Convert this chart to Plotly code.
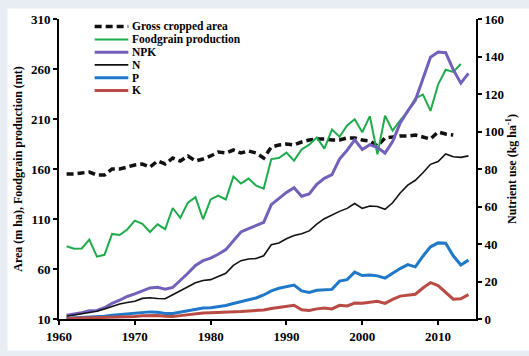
import plotly.graph_objects as go

# ---- data -------------------------------------------------------------
years = list(range(1961, 2015))
years_area = list(range(1961, 2013))
years_food = list(range(1961, 2014))

# Gross cropped area (m ha)
gross_cropped_area = [
    155, 155, 156, 157, 154, 154, 160, 160, 162, 164,
    165, 162, 168, 165, 171, 168, 173, 168, 170, 173,
    177, 176, 179, 176, 178, 176, 171, 182, 184, 185,
    184, 187, 189, 190, 190, 189, 189, 191, 191, 189,
    188, 183, 191, 192, 193, 193, 194, 192, 190, 197,
    195, 194,
]

# Foodgrain production (mt)
foodgrain = [
    82.7, 80.2, 80.6, 89.4, 72.4, 74.2, 95.1, 94.0, 99.5, 108.4,
    105.2, 97.0, 104.7, 99.8, 121.0, 111.2, 126.4, 131.9, 109.7, 129.6,
    133.3, 129.5, 152.4, 145.5, 150.4, 143.4, 140.4, 169.9, 171.0, 176.4,
    168.4, 179.5, 184.3, 191.5, 180.4, 199.4, 192.3, 203.6, 209.8, 196.8,
    212.9, 174.8, 213.2, 198.4, 208.6, 217.3, 230.8, 234.5, 218.1, 244.5,
    259.3, 257.1, 265.0,
]

# Nutrient use (kg/ha)
npk = [
    2.0, 2.6, 3.3, 4.4, 4.6, 6.0, 8.3, 10.0, 12.0, 13.4,
    15.0, 16.6, 16.9, 15.9, 16.8, 20.5, 24.4, 28.6, 31.1, 32.5,
    34.5, 37.0, 42.0, 46.4, 48.2, 49.8, 51.5, 61.0, 64.0, 67.5,
    70.0, 65.5, 66.7, 71.8, 75.0, 77.0, 85.3, 90.0, 95.5, 90.4,
    93.0, 91.4, 88.5, 94.6, 104.5, 111.0, 116.7, 128.5, 139.6, 142.4,
    142.0, 133.0, 125.8, 131.0,
]
nitrogen = [
    1.5, 2.2, 3.0, 3.8, 4.1, 5.3, 6.6, 8.0, 8.8, 9.5,
    11.0, 11.3, 10.9, 10.8, 12.9, 15.0, 17.1, 19.3, 20.5, 21.0,
    22.7, 24.4, 28.6, 31.1, 32.0, 32.3, 33.7, 39.6, 40.5, 42.8,
    44.5, 45.5, 47.0, 50.6, 53.5, 55.5, 57.4, 59.0, 61.6, 59.0,
    60.3, 60.0, 58.5, 62.0, 67.2, 71.4, 74.0, 78.0, 82.5, 84.0,
    88.0, 86.5, 86.2, 87.0,
]
phosphorus = [
    0.4, 0.6, 0.8, 1.0, 1.1, 1.5, 2.0, 2.4, 2.7, 3.0,
    3.5, 3.8, 3.6, 3.0, 3.0, 3.8, 4.7, 5.5, 5.9, 6.0,
    6.6, 7.2, 8.3, 9.2, 10.0, 11.2, 12.8, 15.0, 16.4, 17.3,
    18.1, 15.0, 14.2, 15.3, 15.4, 15.8, 20.2, 21.0, 25.0, 23.2,
    23.5, 23.0, 21.8, 24.4, 26.9, 29.0, 27.8, 33.5, 38.5, 40.6,
    40.4, 33.7, 28.8, 31.4,
]
potassium = [
    0.3, 0.4, 0.5, 0.5, 0.6, 0.7, 0.9, 1.0, 1.1, 1.3,
    1.7, 1.9, 1.9, 1.5, 1.4, 1.8, 2.3, 2.8, 3.2, 3.3,
    3.4, 3.5, 3.8, 4.0, 4.3, 4.6, 4.8, 5.6, 6.2, 7.0,
    7.3, 4.9, 4.6, 5.4, 5.9, 5.4, 7.3, 7.0, 8.5, 8.4,
    8.8, 9.4, 8.3, 10.5, 12.2, 12.6, 13.2, 16.5, 19.4, 17.8,
    14.2, 10.6, 10.8, 13.0,
]

x_ticks = [1960, 1970, 1980, 1990, 2000, 2010]
left_ticks = [10, 60, 110, 160, 210, 260, 310]
right_ticks = [0, 20, 40, 60, 80, 100, 120, 140, 160]

# ---- styling ----------------------------------------------------------
FONT = "Liberation Serif, Times New Roman, Times, serif"
GREEN = "#1fab4c"
PURPLE = "#7360bb"
BLACK = "#111111"
BLUE = "#1f78c8"
RED = "#b94a44"

series = [
    dict(name="Gross cropped area", x=years_area, y=gross_cropped_area, axis="y",
         color=BLACK, width=3.5, dash="7px,4px"),
    dict(name="Foodgrain production", x=years_food, y=foodgrain, axis="y",
         color=GREEN, width=2, dash="solid"),
    dict(name="NPK", x=years, y=npk, axis="y2", color=PURPLE, width=3, dash="solid"),
    dict(name="N", x=years, y=nitrogen, axis="y2", color=BLACK, width=1.6, dash="solid"),
    dict(name="P", x=years, y=phosphorus, axis="y2", color=BLUE, width=3, dash="solid"),
    dict(name="K", x=years, y=potassium, axis="y2", color=RED, width=3, dash="solid"),
]

fig = go.Figure()
for s in series:
    fig.add_trace(go.Scatter(
        x=s["x"], y=s["y"], yaxis=s["axis"], name=s["name"], mode="lines",
        line=dict(color=s["color"], width=s["width"], dash=s["dash"]),
        showlegend=False,
    ))

# plot-area geometry in pixels (used for the hand-built legend and frame)
W, H = 529, 356
L, R, T, B = 59, 49, 18, 23
pw, ph = W - L - R, H - T - B


def px_x(p):
    return (p - L) / pw


def px_y(p):
    return (H - B - p) / ph


shapes = [
    # white sheet over the tinted page
    dict(type="rect", xref="paper", yref="paper", layer="below",
         x0=px_x(7), x1=px_x(W + 10), y0=px_y(H + 10), y1=px_y(7),
         fillcolor="white", line=dict(width=0)),
]
annotations = []

# legend block, top-left inside the plot
leg_top, leg_step = 26, 13.4
for i, s in enumerate(series):
    ry = leg_top + i * leg_step
    shapes.append(dict(
        type="line", xref="paper", yref="paper",
        x0=px_x(95), x1=px_x(129), y0=px_y(ry), y1=px_y(ry),
        line=dict(color=s["color"], width=s["width"], dash=s["dash"]),
    ))
    annotations.append(dict(
        xref="paper", yref="paper", x=px_x(131), y=px_y(ry),
        xanchor="left", yanchor="middle", showarrow=False,
        text="<b>" + s["name"] + "</b>",
        font=dict(family=FONT, size=11.5, color="black"),
    ))

tick_font = dict(family=FONT, size=13, color="black", weight="bold")
title_font = dict(family=FONT, size=12, color="black", weight="bold")
axis_common = dict(
    showline=True, linecolor="black", linewidth=2,
    ticks="outside", ticklen=4, tickwidth=1.5, tickcolor="black",
    showgrid=False, zeroline=False, tickfont=tick_font,
)

fig.update_layout(
    width=W, height=H, autosize=False,
    margin=dict(l=L, r=R, t=T, b=B, pad=0),
    paper_bgcolor="#e8edf3",
    plot_bgcolor="white",
    font=dict(family=FONT),
    showlegend=False,
    shapes=shapes,
    annotations=annotations,
    xaxis=dict(range=[1960, 2015], tickvals=x_ticks, **axis_common),
    yaxis=dict(
        range=[10, 310], tickvals=left_ticks,
        title=dict(text="Area (m ha), Foodgrain production (mt)",
                   font=title_font, standoff=6),
        **axis_common,
    ),
    yaxis2=dict(
        range=[0, 160], tickvals=right_ticks, overlaying="y", side="right",
        title=dict(text="Nutrient use (kg ha<sup>-1</sup>)",
                   font=title_font, standoff=5),
        **axis_common,
    ),
)

fig.write_html("out.html")
